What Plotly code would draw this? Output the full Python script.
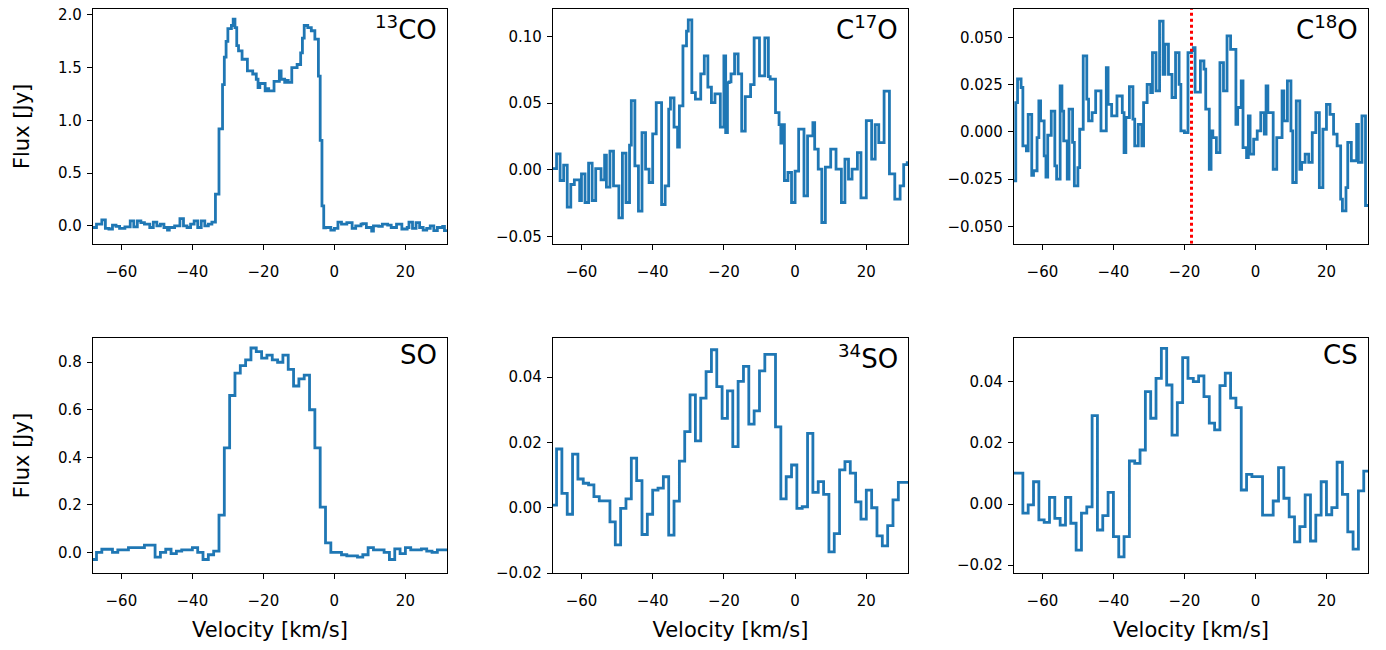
import numpy as np
import plotly.graph_objects as go

# channel grids: first channel edge and channel width [km/s]
v0_fine, dv_fine = -68.0, 0.5
v0_coarse, dv_coarse = -68.5, 1.5

# fine channels, 10 per row (row start velocity in comment)
flux_13co = [
    -0.016, -0.016, 0.016, 0.016, 0.016, 0.057, 0.057, -0.025, -0.025, -0.03,  # -68
    -0.03, 0.006, 0.006, -0.005, -0.005, -0.025, -0.025, -0.025, -0.01, -0.01,  # -63
    -0.01, 0.047, 0.047, -0.01, -0.01, 0.047, 0.047, 0.03, 0.03, 0.016,  # -58
    0.016, 0.016, -0.016, -0.016, 0.035, 0.035, 0.0, 0.0, 0.016, 0.016,  # -53
    -0.016, -0.016, -0.04, -0.016, -0.016, -0.016, 0.0, 0.0, 0.0, 0.069,  # -48
    0.069, 0.0, 0.0, -0.016, -0.016, 0.016, 0.016, 0.047, 0.047, -0.016,  # -43
    -0.016, 0.047, 0.047, 0.0, 0.0, 0.016, 0.016, 0.035, 0.035, 0.30,  # -38
    0.30, 0.92, 0.92, 1.34, 1.60, 1.75, 1.87, 1.87, 1.90, 1.96,  # -33
    1.88, 1.71, 1.66, 1.66, 1.58, 1.58, 1.58, 1.47, 1.47, 1.47,  # -28
    1.44, 1.44, 1.39, 1.31, 1.35, 1.35, 1.35, 1.28, 1.30, 1.28,  # -23
    1.28, 1.28, 1.37, 1.37, 1.37, 1.47, 1.39, 1.39, 1.36, 1.38,  # -18
    1.36, 1.36, 1.50, 1.50, 1.50, 1.53, 1.53, 1.64, 1.78, 1.90,  # -13
    1.90, 1.88, 1.88, 1.85, 1.85, 1.77, 1.77, 1.42, 0.81, 0.19,  # -8
    -0.02, -0.016, -0.016, -0.016, -0.04, -0.04, -0.025, -0.025, 0.035, 0.035,  # -3
    0.016, 0.016, 0.016, 0.03, 0.03, 0.03, -0.025, -0.025, 0.0, 0.0,  # 2
    0.0, 0.016, 0.02, 0.02, -0.016, -0.016, -0.016, -0.05, 0.0, 0.0,  # 7
    0.0, -0.005, -0.005, 0.016, 0.016, 0.016, 0.006, 0.006, -0.016, -0.016,  # 12
    -0.016, 0.016, 0.016, 0.016, -0.03, -0.03, -0.03, -0.016, 0.035, 0.035,  # 17
    -0.025, -0.025, 0.03, 0.03, -0.016, -0.016, -0.04, -0.04, -0.025, -0.025,  # 22
    0.0, 0.0, -0.045, -0.045, -0.016, -0.016, -0.016, -0.005, -0.045, -0.045,  # 27
]

flux_c17o = [
    0.001, 0.001, 0.012, 0.012, -0.008, -0.008, 0.0035, 0.0035, -0.028, -0.028,  # -68
    -0.011, -0.011, -0.0075, -0.0075, -0.0075, -0.023, -0.003, -0.003, -0.0245, -0.0245,  # -63
    0.005, 0.005, -0.023, -0.023, 0.001, 0.001, 0.001, -0.0075, -0.0075, 0.011,  # -58
    -0.013, -0.013, 0.014, 0.014, -0.012, -0.012, -0.012, -0.036, -0.036, 0.0125,  # -53
    0.0125, -0.0245, -0.0245, 0.0185, 0.052, 0.052, 0.003, 0.003, -0.031, -0.031,  # -48
    0.028, 0.028, 0.0005, 0.0005, -0.0095, -0.0095, 0.027, 0.027, 0.0505, 0.0505,  # -43
    0.0505, -0.026, -0.026, -0.012, -0.012, 0.0455, 0.054, 0.054, 0.032, 0.032,  # -38
    0.017, 0.048, 0.048, 0.093, 0.093, 0.104, 0.1125, 0.1125, 0.058, 0.058,  # -33
    0.053, 0.053, 0.053, 0.072, 0.072, 0.0855, 0.0855, 0.062, 0.062, 0.0505,  # -28
    0.0505, 0.057, 0.057, 0.057, 0.032, 0.032, 0.0855, 0.028, 0.0655, 0.066,  # -23
    0.072, 0.072, 0.087, 0.087, 0.072, 0.072, 0.029, 0.029, 0.055, 0.055,  # -18
    0.055, 0.064, 0.064, 0.099, 0.099, 0.099, 0.0705, 0.0705, 0.0705, 0.099,  # -13
    0.099, 0.07, 0.068, 0.068, 0.068, 0.043, 0.043, 0.034, 0.02, 0.034,  # -8
    -0.008, -0.008, -0.002, -0.002, -0.0245, -0.0245, -0.001, -0.001, 0.0305, 0.0305,  # -3
    0.0305, -0.0195, -0.0195, 0.0255, 0.0255, 0.0255, 0.0355, 0.0155, 0.0155, 0.0005,  # 2
    0.0005, -0.0395, -0.0395, 0.002, 0.002, 0.002, 0.0155, 0.0155, 0.0155, 0.0005,  # 7
    0.0005, 0.0005, -0.0245, -0.0245, 0.008, 0.008, -0.007, -0.007, 0.0005, 0.0005,  # 12
    0.0005, 0.013, 0.013, -0.021, -0.021, -0.021, 0.037, 0.037, 0.037, 0.008,  # 17
    0.008, 0.034, 0.034, 0.0205, 0.0205, 0.0205, 0.059, 0.059, 0.059, -0.003,  # 22
    -0.003, -0.003, -0.022, -0.022, -0.022, -0.012, -0.012, 0.004, 0.004, 0.0055,  # 27
]

flux_c18o = [
    -0.026, 0.0155, 0.028, 0.028, 0.0235, -0.0074, -0.0074, -0.010, 0.0093, 0.0093,  # -68
    -0.023, -0.0206, -0.0206, -0.003, 0.0164, 0.0058, 0.0058, -0.0127, -0.024, -0.0018,  # -63
    -0.0018, 0.011, 0.011, -0.018, -0.025, -0.025, 0.0243, 0.011, -0.0048, -0.0048,  # -58
    -0.025, 0.012, 0.012, -0.0056, -0.0286, -0.0286, -0.0189, 0.0014, 0.0014, 0.0402,  # -53
    0.0402, 0.0173, 0.0058, 0.0058, 0.0102, 0.0102, 0.0217, 0.0217, 0.0217, 0.0005,  # -48
    0.0005, 0.0005, 0.034, 0.0146, 0.0146, 0.0085, 0.0085, 0.0085, 0.019, 0.019,  # -43
    0.019, 0.0102, -0.011, 0.0076, 0.0076, 0.024, 0.024, 0.0067, -0.0074, -0.0074,  # -38
    0.004, 0.004, -0.0074, 0.0155, 0.0155, 0.0252, 0.0252, 0.0208, 0.042, 0.042,  # -33
    0.0217, 0.0217, 0.0587, 0.0587, 0.0305, 0.0464, 0.0464, 0.0305, 0.0305, 0.0182,  # -28
    0.0182, 0.042, 0.042, 0.0252, 0.0005, 0.0005, -0.0004, -0.0004, 0.042, 0.042,  # -23
    0.043, 0.0446, 0.021, 0.021, 0.021, 0.0376, 0.0376, 0.0332, 0.012, 0.012,  # -18
    -0.0198, 0.0005, -0.003, -0.003, -0.011, -0.011, 0.0367, 0.0367, 0.0217, 0.0217,  # -13
    0.0508, 0.0508, 0.0437, 0.0437, 0.0437, 0.004, 0.0129, 0.0129, 0.027, -0.0083,  # -8
    -0.0083, -0.0136, 0.0085, -0.0118, -0.0118, -0.0039, -0.0039, 0.0005, 0.0005, 0.0102,  # -3
    0.0102, -0.0012, 0.0243, 0.0102, 0.0102, 0.0102, -0.0198, -0.0198, -0.003, -0.003,  # 2
    -0.003, 0.0217, 0.0058, 0.0058, 0.027, 0.027, 0.0005, -0.0268, -0.0268, 0.0164,  # 7
    0.0164, -0.0198, -0.0162, -0.0162, -0.0118, -0.0118, -0.0162, -0.0162, -0.0004, -0.0004,  # 12
    0.0102, 0.0102, -0.0295, -0.0295, 0.0014, 0.0014, 0.0146, 0.0146, 0.0093, 0.0093,  # 17
    -0.0012, -0.0012, -0.0074, -0.0074, -0.0356, -0.0418, -0.0418, -0.0295, -0.0056, -0.0056,  # 22
    -0.0153, -0.0153, -0.0153, 0.004, -0.0162, -0.0162, 0.0085, 0.0085, -0.039, -0.039,  # 27
]

# coarse channels, 10 per row
flux_so = [
    -0.03, 0.0, 0.013, 0.013, 0.0, 0.01, 0.01, 0.02, 0.02, 0.02,  # -68.5
    0.03, 0.03, -0.02, 0.0, 0.013, -0.005, 0.005, 0.01, 0.01, 0.02,  # -53.5
    0.0, -0.03, -0.01, 0.005, 0.157, 0.44, 0.66, 0.754, 0.786, 0.81,  # -38.5
    0.86, 0.845, 0.817, 0.83, 0.81, 0.80, 0.83, 0.77, 0.70, 0.73,  # -23.5
    0.746, 0.60, 0.44, 0.19, 0.04, 0.0, 0.0, -0.01, -0.015, -0.015,  # -8.5
    -0.02, -0.01, 0.02, 0.01, 0.01, 0.0, -0.03, 0.015, -0.005, 0.02,  # 6.5
    0.01, 0.01, 0.015, 0.005, 0.0, 0.01, 0.01,  # 21.5
]

flux_34so = [
    0.0008, 0.018, 0.0044, -0.002, 0.0164, 0.0088, 0.0075, 0.007, 0.0034, 0.0021,  # -68.5
    0.0021, -0.0043, -0.0114, -0.0002, 0.0027, 0.0152, 0.0083, -0.0082, -0.002, 0.0054,  # -53.5
    0.006, 0.0095, -0.0084, 0.002, 0.0143, 0.0233, 0.0346, 0.0205, 0.0336, 0.0417,  # -38.5
    0.0484, 0.0371, 0.0274, 0.0358, 0.0187, 0.0387, 0.0433, 0.0256, 0.0297, 0.0419,  # -23.5
    0.047, 0.047, 0.0248, 0.0027, 0.0095, 0.0131, -0.0002, 0.0003, 0.0228, 0.0047,  # -8.5
    0.008, 0.0041, -0.0135, -0.0079, 0.0116, 0.0141, 0.0106, 0.0018, -0.0035, 0.0054,  # 6.5
    0.0, -0.0086, -0.0117, -0.0055, 0.0024, 0.0078, 0.0078,  # 21.5
]

flux_cs = [
    0.0101, 0.0101, -0.003, -0.0003, 0.0073, -0.0052, -0.006, 0.0022, -0.0047, -0.0069,  # -68.5
    0.0022, -0.0063, -0.0151, -0.003, -0.0009, 0.029, -0.0085, -0.0038, 0.0038, -0.0107,  # -53.5
    -0.0173, -0.0107, 0.0141, 0.0133, 0.0177, 0.0368, 0.0281, 0.0412, 0.051, 0.039,  # -38.5
    0.0226, 0.0332, 0.048, 0.0412, 0.0401, 0.042, 0.0352, 0.0265, 0.0243, 0.0388,  # -23.5
    0.0429, 0.0347, 0.0316, 0.0046, 0.0097, 0.009, 0.009, -0.0036, -0.0036, 0.001,  # -8.5
    0.0119, 0.0019, -0.0042, -0.0124, -0.0074, 0.003, -0.0121, -0.0036, 0.0073, -0.0035,  # 6.5
    -0.0012, 0.0137, 0.0032, -0.0091, -0.0148, 0.0043, 0.0108,  # 21.5
]

c18o_vline = -18.0

# (label, flux, grid, y range, y tick step, y tick format)
panels = [
    ("<sup>13</sup>CO", flux_13co, "fine", [-0.171, 2.057], 0.5, ".1f"),
    ("C<sup>17</sup>O", flux_c17o, "fine", [-0.0555, 0.1207], 0.05, ".2f"),
    ("C<sup>18</sup>O", flux_c18o, "fine", [-0.0593, 0.0651], 0.025, ".3f"),
    ("SO", flux_so, "coarse", [-0.087, 0.902], 0.2, ".1f"),
    ("<sup>34</sup>SO", flux_34so, "coarse", [-0.0200, 0.0520], 0.02, ".2f"),
    ("CS", flux_cs, "coarse", [-0.0226, 0.0544], 0.02, ".2f"),
]

# the page body adds an 8px margin on every side, so the figure is
# 16px smaller than the window and the whole page fills it exactly
col_dom = [(0.0620, 0.3204), (0.3978, 0.6569), (0.7343, 0.9927)]
row_dom = [(0.6280, 0.9985), (0.1088, 0.4795)]

fig = go.Figure()
layout = {}
for k, (label, flux, grid, yr, ystep, yfmt) in enumerate(panels):
    n = k + 1
    sfx = "" if n == 1 else str(n)
    row, col = divmod(k, 3)
    v0, dv = (v0_fine, dv_fine) if grid == "fine" else (v0_coarse, dv_coarse)
    edges = v0 + dv * np.arange(len(flux) + 1)
    yvals = list(flux) + [flux[-1]]
    fig.add_trace(go.Scatter(
        x=edges, y=yvals, mode="lines",
        line=dict(color="#1f77b4", width=2.8, shape="hv"),
        xaxis="x" + sfx, yaxis="y" + sfx, showlegend=False,
    ))
    common = dict(
        showline=True, linecolor="black", linewidth=1.2, mirror=True,
        ticks="outside", ticklen=5, tickwidth=1.2, tickcolor="black",
        showgrid=False, zeroline=False, automargin=False,
        ticklabeloverflow="allow",
        tickfont=dict(size=15, color="black"),
    )
    xax = dict(
        common, domain=col_dom[col], anchor="y" + sfx,
        range=[-68, 31.7], dtick=20, tick0=0, ticklabelstandoff=9,
    )
    if row == 1:
        xax["title"] = dict(text="Velocity [km/s]",
                            font=dict(size=21, color="black"), standoff=15)
    yax = dict(
        common, domain=row_dom[row], anchor="x" + sfx,
        range=yr, dtick=ystep, tick0=0, tickformat=yfmt, ticklabelstandoff=2,
    )
    if col == 0:
        yax["title"] = dict(text="Flux [Jy]",
                            font=dict(size=21, color="black"), standoff=22)
    layout["xaxis" + sfx] = xax
    layout["yaxis" + sfx] = yax
    fig.add_annotation(
        text=label, xref="x" + sfx + " domain", yref="y" + sfx + " domain",
        x=0.978, y=1.0, xanchor="right", yanchor="top", showarrow=False,
        font=dict(size=26, color="black"),
    )

# red dotted marker in the C18O panel
fig.add_trace(go.Scatter(
    x=[c18o_vline, c18o_vline], y=[-0.0593, 0.0651], mode="lines",
    line=dict(color="red", width=3, dash="dot"),
    xaxis="x3", yaxis="y3", showlegend=False,
))

fig.update_layout(
    **layout,
    width=1370, height=634,
    margin=dict(l=0, r=0, t=0, b=0),
    paper_bgcolor="white", plot_bgcolor="white",
    font=dict(family="DejaVu Sans", color="black"),
    showlegend=False,
)

fig.write_html("out.html")
